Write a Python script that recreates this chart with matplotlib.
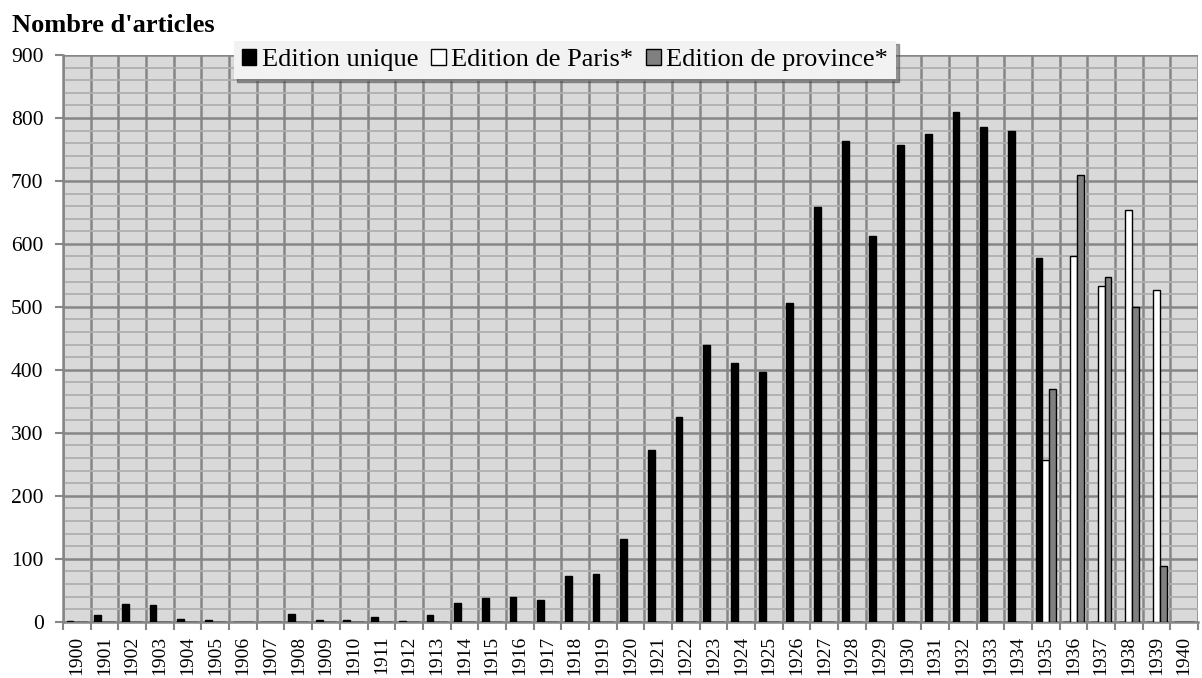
import matplotlib
matplotlib.use("Agg")
import matplotlib.pyplot as plt
import numpy as np
from matplotlib.ticker import MultipleLocator, FixedLocator

years = list(range(1900, 1941))

unique = [1, 10, 28, 27, 4, 2, 0, 0, 13, 2, 2, 7, 1, 11, 30, 38, 39, 35, 72, 76,
          131, 272, 325, 440, 411, 397, 506, 658, 763, 613, 757, 775, 809, 785, 780,
          577, 0, 0, 0, 0, 0]
paris = [0] * 35 + [257, 580, 533, 654, 527, 0]
province = [0] * 35 + [369, 710, 547, 499, 88, 0]

labels = ["Edition unique", "Edition de Paris*", "Edition de province*"]
colors = ["#000000", "#ffffff", "#808080"]

plt.rcParams["font.family"] = ["Liberation Serif", "DejaVu Serif"]

fig = plt.figure(figsize=(12.02, 6.78), dpi=100)
ax = fig.add_axes([63 / 1202, 1 - 621.7 / 678, (1198 - 63) / 1202, (621.7 - 55) / 678])
ax.set_facecolor("#d9d9d9")

x = np.arange(len(years))
w = 0.245
for i, (vals, col, lab) in enumerate(zip([unique, paris, province], colors, labels)):
    ax.bar(x + (i - 1) * w, vals, width=w, color=col, edgecolor="black",
           linewidth=1.0, label=lab, zorder=3)

ax.set_xlim(-0.5, len(years) - 0.5)
ax.set_ylim(0, 900)

ax.yaxis.set_major_locator(MultipleLocator(100))
ax.yaxis.set_minor_locator(MultipleLocator(20))
ax.set_xticks(x)
ax.set_xticklabels([str(y) for y in years], rotation=90, fontsize=14)
ax.xaxis.set_minor_locator(FixedLocator(np.arange(-0.5, len(years), 1.0)))
ax.tick_params(axis="x", which="major", length=0, pad=10)
ax.tick_params(axis="x", which="minor", length=6, width=1.5, color="#868686")
ax.tick_params(axis="y", which="major", length=6, width=1.5, color="#868686",
               labelsize=15.5, pad=8)
ax.tick_params(axis="y", which="minor", length=0)

ax.grid(axis="y", which="major", color="#868686", linewidth=1.8, zorder=1)
ax.grid(axis="y", which="minor", color="#afafaf", linewidth=1.3, zorder=0)
ax.grid(axis="x", which="minor", color="#868686", linewidth=1.8, zorder=1)
ax.grid(axis="x", which="major", visible=False)
ax.set_axisbelow(True)

for side in ["top", "right"]:
    ax.spines[side].set_visible(False)
for side in ["left", "bottom"]:
    ax.spines[side].set_color("#868686")
    ax.spines[side].set_linewidth(1.8)

fig.text(12 / 1202, 1 - 25 / 678, "Nombre d'articles", fontsize=19, fontweight="bold",
         va="center", ha="left")

leg = fig.legend(loc="center", bbox_to_anchor=(565 / 1202, 1 - 60 / 678), ncol=3,
                 fontsize=19, frameon=True, fancybox=False, shadow=True,
                 handlelength=0.55, handleheight=0.55, handletextpad=0.2,
                 columnspacing=0.5, borderpad=0.3)
leg.get_frame().set_facecolor("#f2f2f2")
leg.get_frame().set_edgecolor("none")
leg.get_frame().set_alpha(1)

fig.savefig("out.png", dpi=100, facecolor="white")
